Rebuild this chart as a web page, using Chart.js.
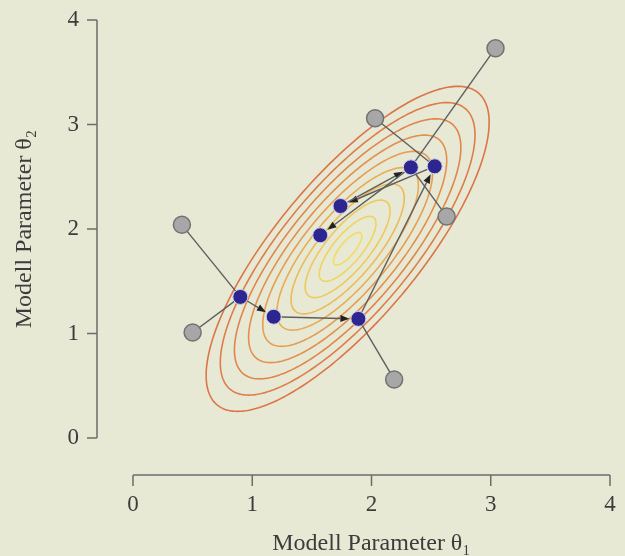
<!DOCTYPE html>
<html>
<head>
<meta charset="utf-8">
<script src="https://cdn.jsdelivr.net/npm/chart.js@4.4.1/dist/chart.umd.min.js"></script>
<style>
  html, body { margin: 0; padding: 0; background: #e7e9d4; }
  #wrap { width: 625px; height: 556px; }
</style>
</head>
<body>
<div id="wrap"><canvas id="chart" width="625" height="556"></canvas></div>
<script>
// start points (gray) and iterates (blue)
const grayX = [3.04, 2.03, 2.63, 0.41, 0.50, 2.19];
const grayY = [3.73, 3.06, 2.12, 2.04, 1.01, 0.56];
const blueX = [2.33, 2.53, 1.74, 1.57, 0.90, 1.18, 1.89];
const blueY = [2.59, 2.60, 2.22, 1.94, 1.35, 1.16, 1.14];

// plain links [gray, blue] and arrows [blue from, blue to]
const links = [[3, 4], [4, 4], [5, 6], [0, 0], [2, 0], [1, 1]];
const arrows = [[4, 5], [5, 6], [6, 1], [1, 2], [2, 0], [0, 3]];

// elliptic contours of the objective
const contourCenter = [1.80, 1.81];
const contourCov = [[1.408, 1.436], [1.436, 2.418]];
const contourLevels = [0.1, 0.2, 0.3, 0.4, 0.5, 0.6, 0.7, 0.8, 0.9, 1.0];
const contourColors = ['#f3dc62', '#f1d360', '#efc85e', '#ecba5b', '#e9ab57',
                       '#e69d53', '#e3904f', '#e0864c', '#de7d4a', '#dc7548'];

const tickValues = [0, 1, 2, 3, 4];

const BG = '#e7e9d4';
const AXIS = '#6c6c6c';
const TEXT = '#3c3c3c';
const FONT = 'Liberation Serif';

const extras = {
  id: 'extras',
  beforeDraw(chart) {
    const { ctx, width, height } = chart;
    ctx.save();
    ctx.fillStyle = BG;
    ctx.fillRect(0, 0, width, height);
    ctx.restore();
  },
  beforeDatasetsDraw(chart) {
    const { ctx, scales: { x, y } } = chart;
    const l11 = Math.sqrt(contourCov[0][0]);
    const l21 = contourCov[0][1] / l11;
    const l22 = Math.sqrt(contourCov[1][1] - l21 * l21);
    ctx.save();
    ctx.lineWidth = 1.6;
    contourLevels.forEach((r, i) => {
      ctx.strokeStyle = contourColors[i];
      ctx.beginPath();
      for (let k = 0; k <= 240; k++) {
        const t = k / 240 * Math.PI * 2;
        const px = x.getPixelForValue(contourCenter[0] + r * l11 * Math.cos(t));
        const py = y.getPixelForValue(contourCenter[1] + r * (l21 * Math.cos(t) + l22 * Math.sin(t)));
        if (k) ctx.lineTo(px, py); else ctx.moveTo(px, py);
      }
      ctx.closePath();
      ctx.stroke();
    });

    ctx.strokeStyle = '#5e5e5e';
    ctx.lineWidth = 1.4;
    links.forEach(([g, b]) => {
      ctx.beginPath();
      ctx.moveTo(x.getPixelForValue(grayX[g]), y.getPixelForValue(grayY[g]));
      ctx.lineTo(x.getPixelForValue(blueX[b]), y.getPixelForValue(blueY[b]));
      ctx.stroke();
    });

    ctx.fillStyle = '#222';
    arrows.forEach(([a, b]) => {
      const x0 = x.getPixelForValue(blueX[a]), y0 = y.getPixelForValue(blueY[a]);
      const x1 = x.getPixelForValue(blueX[b]), y1 = y.getPixelForValue(blueY[b]);
      const ang = Math.atan2(y1 - y0, x1 - x0);
      const c = Math.cos(ang), s = Math.sin(ang);
      const tx = x1 - c * 9, ty = y1 - s * 9;
      const head = 9, half = 3.5;
      ctx.beginPath();
      ctx.moveTo(x0 + c * 8, y0 + s * 8);
      ctx.lineTo(tx - c * head, ty - s * head);
      ctx.stroke();
      ctx.beginPath();
      ctx.moveTo(tx, ty);
      ctx.lineTo(tx - c * head - s * half, ty - s * head + c * half);
      ctx.lineTo(tx - c * head + s * half, ty - s * head - c * half);
      ctx.closePath();
      ctx.fill();
    });
    ctx.restore();
  },
  afterDraw(chart) {
    const { ctx, chartArea, scales: { x, y } } = chart;
    const ax = chartArea.left - 36;
    const ay = chartArea.bottom + 37;
    ctx.save();
    ctx.strokeStyle = AXIS;
    ctx.lineWidth = 1.5;
    ctx.beginPath();
    ctx.moveTo(ax, y.getPixelForValue(tickValues[0]));
    ctx.lineTo(ax, y.getPixelForValue(tickValues[tickValues.length - 1]));
    ctx.moveTo(x.getPixelForValue(tickValues[0]), ay);
    ctx.lineTo(x.getPixelForValue(tickValues[tickValues.length - 1]), ay);
    tickValues.forEach(v => {
      const py = y.getPixelForValue(v);
      ctx.moveTo(ax - 10, py);
      ctx.lineTo(ax, py);
      const px = x.getPixelForValue(v);
      ctx.moveTo(px, ay);
      ctx.lineTo(px, ay + 11);
    });
    ctx.stroke();
    ctx.restore();
  }
};

new Chart(document.getElementById('chart'), {
  type: 'scatter',
  data: {
    datasets: [
      {
        data: grayX.map((v, i) => ({ x: v, y: grayY[i] })),
        pointRadius: 8.5,
        backgroundColor: '#a7a7a7',
        borderColor: '#727272',
        borderWidth: 1.5
      },
      {
        data: blueX.map((v, i) => ({ x: v, y: blueY[i] })),
        pointRadius: 7.5,
        backgroundColor: '#2d2691',
        borderColor: '#cfd0e8',
        borderWidth: 1
      }
    ]
  },
  options: {
    responsive: false,
    animation: false,
    layout: { padding: { top: 20, right: 15, left: 0, bottom: 0 } },
    plugins: { legend: { display: false }, tooltip: { enabled: false } },
    scales: {
      x: {
        type: 'linear', min: 0, max: 4,
        grid: { display: false, drawTicks: false },
        border: { display: false },
        ticks: { stepSize: 1, padding: 53, color: TEXT, font: { family: FONT, size: 23 } },
        title: {
          display: true, text: 'Modell Parameter θ₁', color: TEXT,
          font: { family: FONT, size: 24, lineHeight: 1 }, padding: { top: 0, bottom: 0 }
        },
        afterFit(scale) {
          scale.height = 118;
          scale.paddingLeft = scale.paddingRight = 0;
        }
      },
      y: {
        type: 'linear', min: 0, max: 4,
        grid: { display: false, drawTicks: false },
        border: { display: false },
        ticks: { stepSize: 1, padding: 54, color: TEXT, font: { family: FONT, size: 23 } },
        title: {
          display: true, text: 'Modell Parameter θ₂', color: TEXT,
          font: { family: FONT, size: 24, lineHeight: 1 }, padding: { top: 13, bottom: 0 }
        },
        afterFit(scale) {
          scale.width = 133;
          scale.paddingTop = scale.paddingBottom = 0;
        }
      }
    }
  },
  plugins: [extras]
});
</script>
</body>
</html>
